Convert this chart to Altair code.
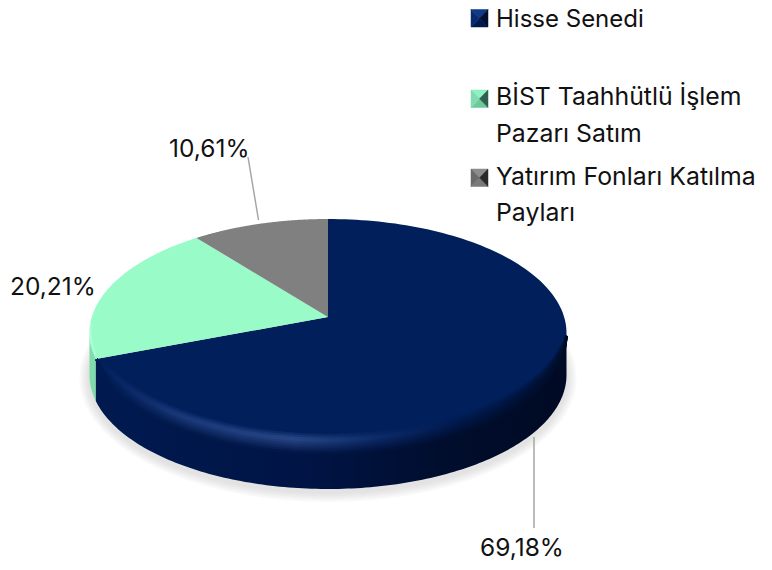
import numpy as np
import pandas as pd
import altair as alt

categories = ["Hisse Senedi", "BİST Taahhütlü İşlem Pazarı Satım", "Yatırım Fonları Katılma Payları"]
shares = [69.18, 20.21, 10.61]
share_labels = ["69,18%", "20,21%", "10,61%"]
legend_lines = [["Hisse Senedi"], ["BİST Taahhütlü İşlem", "Pazarı Satım"], ["Yatırım Fonları Katılma", "Payları"]]

FONT = "Inter"
NAVY, GREEN, GREY = "#001f5b", "#99fbc8", "#808080"
W, H = 756, 554
CX, CY, RX, RY, DEPTH, BETA = 328.0, 333.0, 238.5, 114.0, 42.0, 0.14

xs = alt.Scale(domain=[8, 8 + W])
ys = alt.Scale(domain=[8 + H, 8])


def project(turn, dy=0.0):
    """Fraction of the pie, clockwise from the top, onto the tilted disc."""
    t = 2 * np.pi * np.asarray(turn, dtype=float)
    u, v = np.sin(t), np.cos(t)
    d = 1 + BETA * v
    X = u * np.sqrt(1 - BETA ** 2) / d
    Y = (v + BETA) / d
    return CX + RX * X, CY + dy - RY * Y


def turns(a, b, n=160):
    return np.linspace(a, b, n)


def shape(px, py, **mark):
    df = pd.DataFrame({"x": px, "y": py, "i": np.arange(len(px))})
    return alt.Chart(df).mark_line(**mark).encode(
        x=alt.X("x:Q", scale=xs, axis=None),
        y=alt.Y("y:Q", scale=ys, axis=None),
        order="i:Q",
    )


def grad(stops):
    return alt.LinearGradient(
        gradient="linear", x1=0, x2=1, y1=0, y2=0,
        stops=[alt.GradientStop(offset=o, color=c) for o, c in stops],
    )


def hex_rgb(c):
    return np.array([int(c[i:i + 2], 16) for i in (1, 3, 5)], dtype=float)


def mix(a, b, f):
    r = hex_rgb(a) * (1 - f) + hex_rgb(b) * f
    return "#%02x%02x%02x" % tuple(int(round(v)) for v in r)


layers = []

# soft shadow beneath the disc
full = turns(0, 1, 240)
shadow_cy = CY + DEPTH + 3
for grow in [10, 8, 6, 4, 2]:
    px, py = project(full, dy=DEPTH + 3)
    px = CX + (px - CX) * (RX + grow) / RX
    py = shadow_cy + (py - shadow_cy) * (RY + grow) / RY
    layers.append(shape(px, py, fill="#8a8a8a", fillOpacity=0.055, strokeWidth=0, stroke=None))

f_navy, f_green, f_grey = [s / sum(shares) for s in shares]
start_green = f_navy
start_grey = f_navy + f_green

# side wall: green part then navy part (front half only)
left_turn = 0.728
gx1, gy1 = project(turns(start_green, left_turn, 40))
gx2, gy2 = project(turns(left_turn, start_green, 40), dy=DEPTH)
layers.append(shape(np.r_[gx1, gx2], np.r_[gy1, gy2], fill="#7fdcac", stroke=None, strokeWidth=0))

right_turn = 0.272
nx1, ny1 = project(turns(right_turn, start_green))
nx2, ny2 = project(turns(start_green, right_turn), dy=DEPTH)
layers.append(shape(np.r_[nx1, nx2], np.r_[ny1, ny2], stroke=None, strokeWidth=0,
                    fill=grad([(0, "#001a50"), (0.45, "#001445"), (0.75, "#000d2c"), (1, "#000a24")])))

# pie face
apex_x, apex_y = CX, CY - RY * BETA
for a, b, col in [(0, start_green, NAVY), (start_green, start_grey, GREEN), (start_grey, 1, GREY)]:
    px, py = project(turns(a, b))
    layers.append(shape(np.r_[apex_x, px, apex_x], np.r_[apex_y, py, apex_y], fill=col, stroke=None, strokeWidth=0))

# bevel on the front rim of the navy slice
mid = [(0, "#001f5b"), (0.18, "#1c3b7c"), (0.42, "#2a4989"), (0.6, "#0d2c69"), (0.76, "#001a4f"), (1, "#000f30")]
side = [(0, "#001a50"), (0.18, "#001747"), (0.42, "#001445"), (0.6, "#00103a"), (0.76, "#000d2c"), (1, "#000a24")]
face = [(o, NAVY) for o, _ in mid]
arc = turns(right_turn + 0.006, start_green - 0.002)
env = np.clip(np.minimum(arc - arc[0], arc[-1] - arc) / 0.03, 0, 1)
for s in np.arange(-14, 8, 2.0):
    if s <= -7:
        f = (s + 14) / 7
        stops = [(o, mix(a, b, f)) for (o, a), (_, b) in zip(face, mid)]
    else:
        f = (s + 7) / 14
        stops = [(o, mix(a, b, min(f, 1))) for (o, a), (_, b) in zip(mid, side)]
    px, py = project(arc)
    layers.append(shape(px, py + s * env - 1.3 * (1 - env), stroke=grad(stops), strokeWidth=2.6))

# light rim on the green slice
px, py = project(turns(start_green + 0.003, left_turn + 0.01, 30), dy=-2)
layers.append(shape(px + 1, py, stroke="#b4ffdc", strokeWidth=2.0, strokeOpacity=0.7))


def rule(x1, y1, x2, y2):
    return alt.Chart(pd.DataFrame({"k": [0]})).mark_rule(color="#a6a6a6", strokeWidth=1.5).encode(
        x=alt.value(x1 - 8), x2=alt.value(x2 - 8), y=alt.value(y1 - 8), y2=alt.value(y2 - 8))


def text(s, x, y, size):
    return alt.Chart(pd.DataFrame({"t": [s]})).mark_text(
        font=FONT, fontSize=size, align="left", baseline="alphabetic", color="#111111"
    ).encode(x=alt.value(x - 8), y=alt.value(y - 8), text="t:N")


layers += [rule(534, 437, 534, 528), rule(248, 157, 258.5, 220)]
layers += [text(share_labels[0], 480, 556, 24.5), text(share_labels[1], 10, 295, 24.5), text(share_labels[2], 169, 157, 24.5)]

# legend with pyramid swatches: top, bottom, left, right faces
swatch_cols = [
    ("#0f3a8a", "#001a50", "#0a2a70", "#001030"),
    ("#8ff0c0", "#6fc79c", "#7fdcb0", "#2f5f4d"),
    ("#8c8c8c", "#7a7a7a", "#6a6a6a", "#2a2a2a"),
]
sw_top = [9.5, 90, 169]
base = [[26.5], [105, 142], [185, 221]]
sizes = [[24], [24.8, 24.8], [24.8, 24.8]]
for idx, lines in enumerate(legend_lines):
    x0, x1 = 471.0, 488.0
    y0, y1 = sw_top[idx], sw_top[idx] + 17.5
    mx, my = (x0 + x1) / 2, (y0 + y1) / 2
    tc, bc, lc, rc = swatch_cols[idx]
    for (ax_, ay_, bx_, by_), c in [((x0, y0, x1, y0), tc), ((x0, y1, x1, y1), bc), ((x0, y0, x0, y1), lc), ((x1, y0, x1, y1), rc)]:
        layers.append(shape([ax_, bx_, mx, ax_], [ay_, by_, my, ay_], fill=c, stroke=c, strokeWidth=0.5))
    for line, b, fs in zip(lines, base[idx], sizes[idx]):
        layers.append(text(line, 496, b, fs))

chart = alt.layer(*layers).properties(
    width=W, height=H, padding=0, background="#ffffff",
    autosize=alt.AutoSizeParams(type="none"),
).configure_view(stroke=None)

chart.save("out.html", embed_options={"renderer": "svg", "actions": False})
